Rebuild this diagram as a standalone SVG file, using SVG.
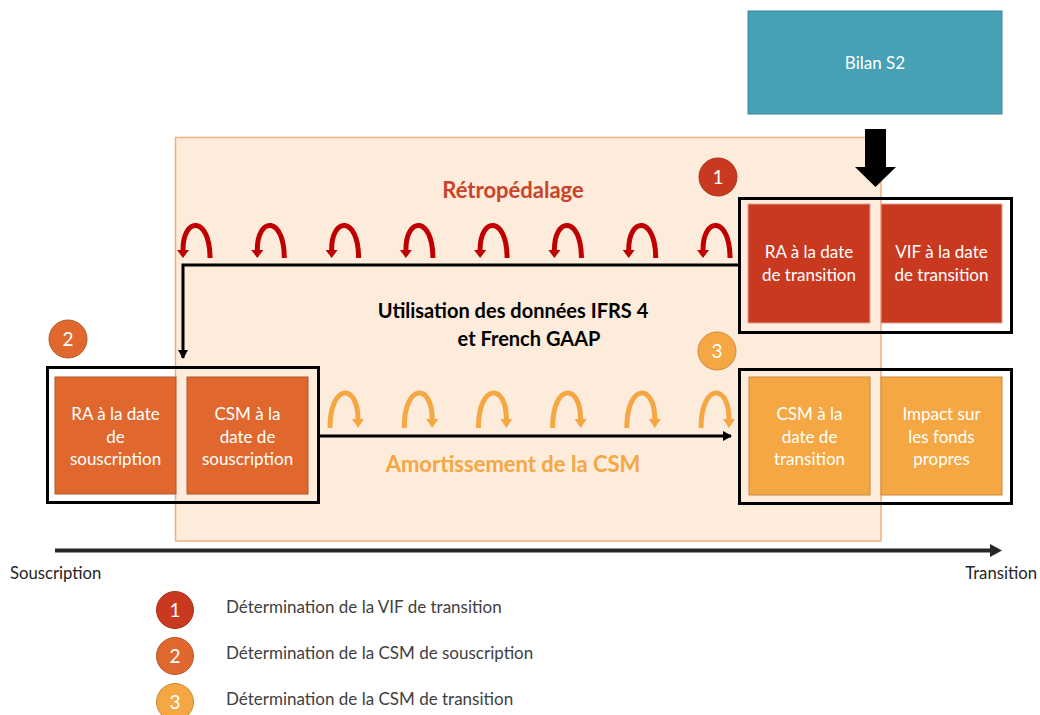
<svg xmlns="http://www.w3.org/2000/svg" width="1040" height="715" viewBox="0 0 1040 715">
  <defs>
    <style>
      text { font-family: Lato, "Liberation Sans", sans-serif; }
      .box-t { fill: #ffffff; font-size: 17px; text-anchor: middle; }
      .num { fill: #ffffff; font-size: 19px; text-anchor: middle; }
      .leg { fill: #404040; font-size: 17px; }
      .axis-t { fill: #262626; font-size: 16.7px; }
      .head { font-size: 22px; font-weight: bold; text-anchor: middle; }
      .head2 { font-size: 20px; font-weight: bold; text-anchor: middle; fill: #000000; }
      .red { fill: #c9391f; stroke: #dca595; stroke-width: 1; }
      .org { fill: #e0682e; stroke: #b4562a; stroke-width: 1; }
      .yel { fill: #f4a742; stroke: #c98a3a; stroke-width: 1; }
      .grp { fill: none; stroke: #000000; stroke-width: 3; }
      .conn { fill: none; stroke: #000000; stroke-width: 3; }
      .arc-r { fill: none; stroke: #c00000; stroke-width: 5; marker-end: url(#hr); }
      .arc-o { fill: none; stroke: #f4a742; stroke-width: 5; marker-end: url(#ho); }
    </style>
    <marker id="hr" markerUnits="userSpaceOnUse" markerWidth="14" markerHeight="14" refX="0" refY="6" orient="auto">
      <path d="M0,0 L8,6 L0,12 Z" fill="#c00000"/>
    </marker>
    <marker id="ho" markerUnits="userSpaceOnUse" markerWidth="14" markerHeight="14" refX="0" refY="6" orient="auto">
      <path d="M0,0 L9,6 L0,12 Z" fill="#f4a742"/>
    </marker>
    <marker id="hb" markerUnits="userSpaceOnUse" markerWidth="12" markerHeight="12" refX="8" refY="5" orient="auto">
      <path d="M0,0 L9,5 L0,10 Z" fill="#000000"/>
    </marker>
  </defs>

  <!-- background zone -->
  <rect id="zone" x="175.5" y="137.5" width="705.5" height="403.5" fill="#fdebdb" stroke="#f1b07a" stroke-width="1.5"/>

  <!-- Bilan S2 -->
  <g id="bilan">
    <rect x="748" y="11" width="254" height="103" fill="#46a1b6" stroke="#3a8799" stroke-width="1"/>
    <text x="875" y="69" class="box-t">Bilan S2</text>
  </g>

  <!-- headings -->
  <g id="title-retro">
    <text x="513" y="198" class="head" fill="#c9442a">Rétropédalage</text>
  </g>
  <g id="title-ifrs">
    <text x="513" y="318" class="head2">Utilisation des données IFRS 4</text>
    <text x="529" y="346" class="head2">et French GAAP</text>
  </g>
  <g id="title-amort">
    <text x="513" y="472" class="head" fill="#f4a742">Amortissement de la CSM</text>
  </g>

  <!-- top group -->
  <g id="ra-transition">
    <rect x="748" y="204" width="122" height="119" class="red"/>
    <text x="809" y="258" class="box-t">RA à la date</text>
    <text x="809" y="281" class="box-t">de transition</text>
  </g>
  <g id="vif-transition">
    <rect x="881" y="204" width="121" height="119" class="red"/>
    <text x="941.5" y="258" class="box-t">VIF à la date</text>
    <text x="941.5" y="281" class="box-t">de transition</text>
  </g>
  <rect id="group-top" x="739.5" y="198.5" width="272" height="134" class="grp"/>

  <!-- bottom left group -->
  <g id="ra-souscription">
    <rect x="55" y="377" width="121" height="117" class="org"/>
    <text x="115.5" y="420" class="box-t">RA à la date</text>
    <text x="115.5" y="443" class="box-t">de</text>
    <text x="115.5" y="465" class="box-t">souscription</text>
  </g>
  <g id="csm-souscription">
    <rect x="187" y="377" width="121" height="117" class="org"/>
    <text x="247.5" y="420" class="box-t">CSM à la</text>
    <text x="247.5" y="443" class="box-t">date de</text>
    <text x="247.5" y="465" class="box-t">souscription</text>
  </g>
  <rect id="group-left" x="47.5" y="367.5" width="271" height="135" class="grp"/>

  <!-- bottom right group -->
  <g id="csm-transition">
    <rect x="749" y="377" width="121" height="118" class="yel"/>
    <text x="809.5" y="420" class="box-t">CSM à la</text>
    <text x="809.5" y="443" class="box-t">date de</text>
    <text x="809.5" y="465" class="box-t">transition</text>
  </g>
  <g id="impact-fp">
    <rect x="881" y="377" width="121" height="118" class="yel"/>
    <text x="941.5" y="420" class="box-t">Impact sur</text>
    <text x="941.5" y="443" class="box-t">les fonds</text>
    <text x="941.5" y="465" class="box-t">propres</text>
  </g>
  <rect id="group-right" x="739.5" y="369.5" width="272" height="134" class="grp"/>

  <!-- step badges -->
  <g id="badge-1">
    <circle cx="718" cy="177" r="19" fill="#c9391f" stroke="#a8301a" stroke-width="1"/>
    <text x="718" y="184" class="num">1</text>
  </g>
  <g id="badge-2">
    <circle cx="68" cy="339" r="19" fill="#e0682e" stroke="#b4562a" stroke-width="1"/>
    <text x="68" y="346" class="num">2</text>
  </g>
  <g id="badge-3">
    <circle cx="717" cy="351" r="19" fill="#f4a742" stroke="#c98a3a" stroke-width="1"/>
    <text x="717" y="358" class="num">3</text>
  </g>

  <!-- retro arcs -->
  <g id="arcs-retro">
    <path class="arc-r" d="M210,258 C210,216 183,216 183,250"/>
    <path class="arc-r" d="M284.3,258 C284.3,216 257.3,216 257.3,250"/>
    <path class="arc-r" d="M358.6,258 C358.6,216 331.6,216 331.6,250"/>
    <path class="arc-r" d="M432.9,258 C432.9,216 405.9,216 405.9,250"/>
    <path class="arc-r" d="M507.1,258 C507.1,216 480.1,216 480.1,250"/>
    <path class="arc-r" d="M581.4,258 C581.4,216 554.4,216 554.4,250"/>
    <path class="arc-r" d="M655.7,258 C655.7,216 628.7,216 628.7,250"/>
    <path class="arc-r" d="M730,258 C730,216 703,216 703,250"/>
  </g>

  <!-- amortization arcs -->
  <g id="arcs-amort">
    <path class="arc-o" d="M330,428 C330,383 358,383 358,419"/>
    <path class="arc-o" d="M404.2,428 C404.2,383 432.2,383 432.2,419"/>
    <path class="arc-o" d="M478.4,428 C478.4,383 506.4,383 506.4,419"/>
    <path class="arc-o" d="M552.6,428 C552.6,383 580.6,383 580.6,419"/>
    <path class="arc-o" d="M626.8,428 C626.8,383 654.8,383 654.8,419"/>
    <path class="arc-o" d="M701,428 C701,383 729,383 729,419"/>
  </g>

  <!-- connectors -->
  <g id="connectors">
    <path class="conn" d="M739,265 H183 V358" marker-end="url(#hb)"/>
    <path class="conn" d="M319,436 H731" marker-end="url(#hb)"/>
    <polygon points="865,129 886,129 886,167 896,167 875.5,187 855,167 865,167" fill="#000000"/>
    <path d="M55,550.5 H992" stroke="#262626" stroke-width="4" fill="none"/>
    <polygon points="990,544 1002,550.5 990,557" fill="#262626"/>
  </g>

  <!-- axis labels -->
  <text x="10" y="579" class="axis-t">Souscription</text>
  <text x="1037" y="579" class="axis-t" text-anchor="end">Transition</text>

  <!-- legend -->
  <g id="legend">
    <circle cx="175" cy="610" r="18.5" fill="#c9391f" stroke="#a8301a" stroke-width="1"/>
    <text x="175" y="617" class="num">1</text>
    <text x="226" y="613" class="leg">Détermination de la VIF de transition</text>
    <circle cx="175" cy="656" r="18.5" fill="#e0682e" stroke="#b4562a" stroke-width="1"/>
    <text x="175" y="663" class="num">2</text>
    <text x="226" y="659" class="leg">Détermination de la CSM de souscription</text>
    <circle cx="175" cy="702" r="18.5" fill="#f4a742" stroke="#c98a3a" stroke-width="1"/>
    <text x="175" y="709" class="num">3</text>
    <text x="226" y="705" class="leg">Détermination de la CSM de transition</text>
  </g>
</svg>
